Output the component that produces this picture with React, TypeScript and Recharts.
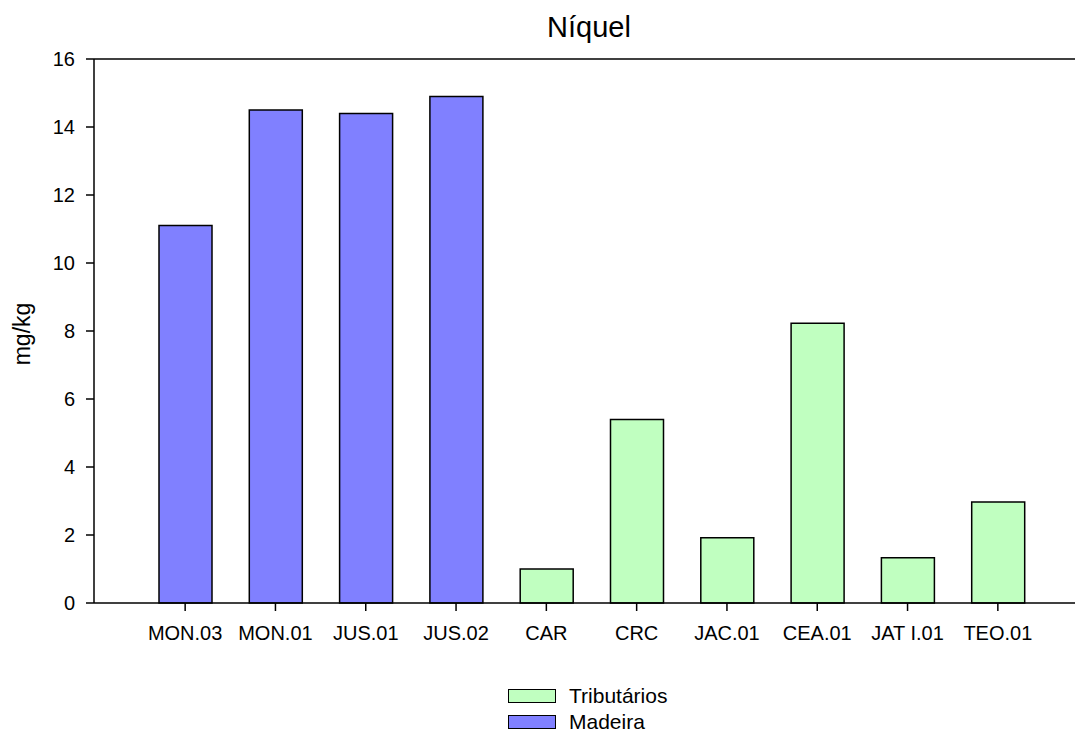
import React from "react";
import { BarChart, Bar, XAxis, YAxis, ReferenceLine, Customized } from "recharts";

const categories = ["MON.03", "MON.01", "JUS.01", "JUS.02", "CAR", "CRC", "JAC.01", "CEA.01", "JAT I.01", "TEO.01"];
const madeira = [11.1, 14.5, 14.4, 14.9, null, null, null, null, null, null];
const tributarios = [null, null, null, null, 1.0, 5.4, 1.92, 8.23, 1.33, 2.97];
const yTicks = [0, 2, 4, 6, 8, 10, 12, 14, 16];

const data = categories.map((c, i) => ({ name: c, madeira: madeira[i], tributarios: tributarios[i] }));

const FONT = "'Liberation Sans', Arial, Helvetica, sans-serif";
const MADEIRA_COLOR = "#8080FF";
const TRIB_COLOR = "#C0FFC0";

const legendItems = [
  { label: "Tributários", color: TRIB_COLOR },
  { label: "Madeira", color: MADEIRA_COLOR },
];

export default function App() {
  return (
    <div style={{ position: "absolute", left: 0, top: 0, width: 1075, height: 732, fontFamily: FONT, background: "#fff", overflow: "hidden" }}>
      <BarChart
        width={1075}
        height={732}
        data={data}
        margin={{ top: 59, right: 0, bottom: 88, left: 0 }}
        barSize={53}
      >
        <XAxis
          dataKey="name"
          padding={{ left: 46, right: 32 }}
          stroke="#000"
          strokeWidth={1.5}
          tickSize={8}
          tickMargin={15}
          height={41}
          interval={0}
          tick={{ fill: "#000", fontSize: 20, fontFamily: FONT }}
        />
        <YAxis
          domain={[0, 16]}
          ticks={yTicks}
          width={94}
          stroke="#000"
          strokeWidth={1.5}
          tickSize={8}
          tickMargin={11}
          tick={{ fill: "#000", fontSize: 20, fontFamily: FONT }}
        />
        <ReferenceLine y={16} stroke="#000" strokeWidth={1.5} />
        <Bar dataKey="madeira" stackId="s" fill={MADEIRA_COLOR} stroke="#000" strokeWidth={1.5} isAnimationActive={false} />
        <Bar dataKey="tributarios" stackId="s" fill={TRIB_COLOR} stroke="#000" strokeWidth={1.5} isAnimationActive={false} />
        <Customized
          component={() => (
            <g>
              <text x={589} y={37} textAnchor="middle" fontSize={29} fontFamily={FONT} fill="#000">Níquel</text>
              <text x={30} y={334} textAnchor="middle" fontSize={23} fontFamily={FONT} fill="#000" transform="rotate(-90 30 334)">mg/kg</text>
            </g>
          )}
        />
      </BarChart>
      {legendItems.map((it, i) => (
        <div key={it.label} style={{ position: "absolute", left: 508, top: 688 + i * 26, display: "flex", alignItems: "center", height: 15 }}>
          <div style={{ width: 46, height: 12, background: it.color, border: "1.5px solid #000" }} />
          <span style={{ marginLeft: 13, fontSize: 21, lineHeight: "15px", fontFamily: FONT, color: "#000", whiteSpace: "nowrap" }}>{it.label}</span>
        </div>
      ))}
    </div>
  );
}
